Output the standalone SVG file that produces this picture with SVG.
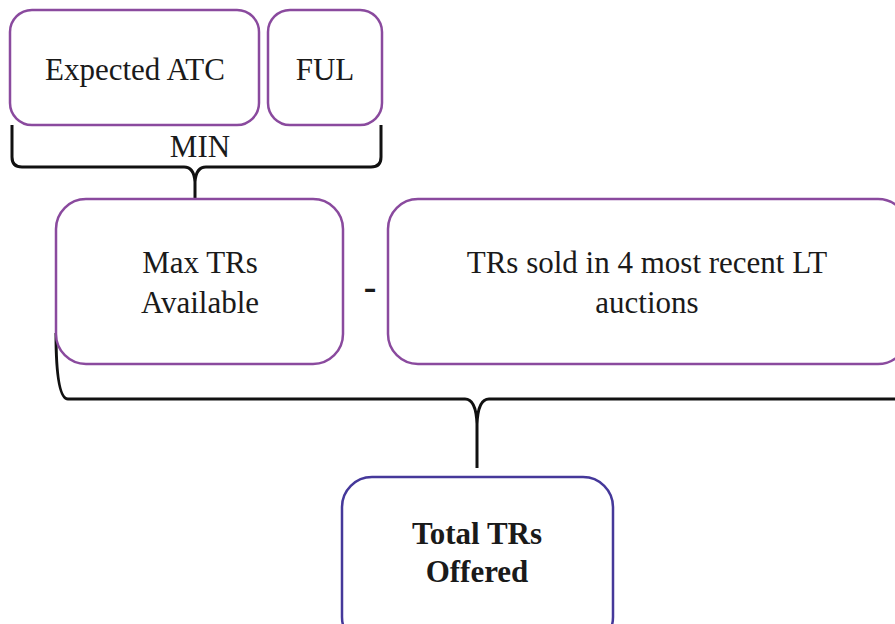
<svg xmlns="http://www.w3.org/2000/svg" width="895" height="624" viewBox="0 0 895 624">
<style>
.box{fill:#fff;stroke:#8a4a9e;stroke-width:2.5}
.box2{fill:#fff;stroke:#45389a;stroke-width:2.5}
.t{font-family:"Liberation Serif","DejaVu Serif",serif;font-size:31px;fill:#1a1a1a;text-anchor:middle}
.b{font-weight:bold}
.br{fill:none;stroke:#111;stroke-width:3;stroke-linejoin:round}
</style>
<rect width="895" height="624" fill="#fff"/>
<g id="connectors">
<path class="br" d="M12,125 L12,157 Q12,167 22,167 L184,167 Q194,167 195,182 L195,212 M195,182 Q196,167 206,167 L371,167 Q381,167 381,157 L381,125"/>
<text class="t" x="200" y="157">MIN</text>
<path class="br" d="M56,333 Q56,399 68,399 L465,399 Q476,399 477,424 L477,468 M477,424 Q478,399 489,399 L895,399"/>
<text class="t b" x="370" y="299" style="font-size:38px">-</text>
</g>
<g id="expected-atc">
<rect class="box" x="10" y="10" width="249" height="115" rx="22"/>
<text class="t" x="135" y="80">Expected ATC</text>
</g>
<g id="ful">
<rect class="box" x="268" y="10" width="114" height="115" rx="22"/>
<text class="t" x="325" y="80">FUL</text>
</g>
<g id="max-trs">
<rect class="box" x="56" y="199" width="287" height="165" rx="30"/>
<text class="t" x="200" y="273">Max TRs</text>
<text class="t" x="200" y="313">Available</text>
</g>
<g id="trs-sold">
<rect class="box" x="388" y="199" width="520" height="165" rx="30"/>
<text class="t" x="647" y="273">TRs sold in 4 most recent LT</text>
<text class="t" x="647" y="313">auctions</text>
</g>
<g id="total-trs">
<rect class="box2" x="342" y="477" width="271" height="170" rx="30"/>
<text class="t b" x="477" y="544">Total TRs</text>
<text class="t b" x="477" y="582">Offered</text>
</g>
</svg>
